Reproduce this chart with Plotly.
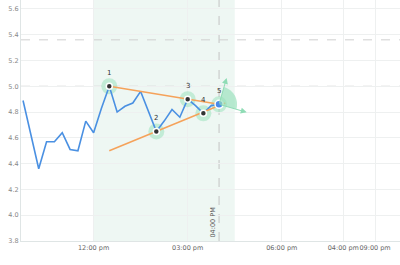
import math
import plotly.graph_objects as go

# ---- data ----
x_idx = [0, 2, 3, 4, 5, 6, 7, 8, 9, 10, 11, 12, 13, 14, 15, 16, 17, 18, 19, 20, 21, 22, 23, 24, 25]
price = [4.89, 4.36, 4.57, 4.57, 4.64, 4.51, 4.50, 4.73, 4.64, 4.83, 5.00, 4.80, 4.845, 4.87, 4.96,
         4.81, 4.65, 4.73, 4.82, 4.76, 4.90, 4.85, 4.79, 4.85, 4.86]

pivot_x = [11, 17, 21, 23, 25]
pivot_y = [5.00, 4.65, 4.90, 4.79, 4.86]
pivot_labels = ["1", "2", "3", "4", "5"]

upper_x = [11, 25]
upper_y = [5.00, 4.86]
lower_x = [11, 25.8]
lower_y = [4.50, 4.87]

h_levels = [5.36, 5.00]
zone = [9, 27]
now_x = 25
now_label = "04:00 PM"

tick_vals = [9, 21, 33, 40.85, 44.9]
tick_text = ["12:00 pm", "03:00 pm", "06:00 pm", "04:00 pm", "09:00 pm"]
y_ticks = [3.8, 4.0, 4.2, 4.4, 4.6, 4.8, 5.0, 5.2, 5.4, 5.6]

X_RANGE = [-0.26, 48.08]
Y_RANGE = [3.8, 5.669]

W, H = 400, 265
ML, MB = 21, 24
px_per_x = (W - ML) / (X_RANGE[1] - X_RANGE[0])
px_per_y = (H - MB) / (Y_RANGE[1] - Y_RANGE[0])

FONT = "DejaVu Sans"
fig = go.Figure()

# halos
fig.add_trace(go.Scatter(x=pivot_x, y=pivot_y, mode="markers",
                         marker=dict(size=16, color="rgba(150,225,185,0.5)"),
                         hoverinfo="skip", showlegend=False))

# wedge at last pivot
cx, cy = pivot_x[-1], pivot_y[-1]
R = 18
a0, a1 = -16, 74
pts = [(cx, cy)]
for i in range(21):
    a = math.radians(a0 + (a1 - a0) * i / 20)
    pts.append((cx + R * math.cos(a) / px_per_x, cy + R * math.sin(a) / px_per_y))
path = "M " + " L ".join(f"{p[0]},{p[1]}" for p in pts) + " Z"

shapes = [
    dict(type="rect", xref="x", yref="paper", x0=zone[0], x1=zone[1], y0=0, y1=1,
         fillcolor="#eef7f3", line_width=0, layer="below"),
    dict(type="line", xref="x", yref="paper", x0=now_x, x1=now_x, y0=0, y1=1,
         line=dict(color="#c4c4c4", width=1, dash="dash"), layer="below"),
    dict(type="path", path=path, fillcolor="rgba(150,224,186,0.65)", line_width=0, layer="above"),
]
for lv in h_levels:
    shapes.append(dict(type="line", xref="paper", yref="y", x0=0, x1=1, y0=lv, y1=lv,
                       line=dict(color="#cfcfcf", width=1, dash="dash"), layer="below"))

# price line
fig.add_trace(go.Scatter(x=x_idx, y=price, mode="lines",
                         line=dict(color="#4a90e2", width=1.6), hoverinfo="skip", showlegend=False))
# trend lines
fig.add_trace(go.Scatter(x=upper_x, y=upper_y, mode="lines",
                         line=dict(color="#f5a25a", width=1.5), showlegend=False))
fig.add_trace(go.Scatter(x=lower_x, y=lower_y, mode="lines",
                         line=dict(color="#f5a25a", width=1.5), showlegend=False))

# pivot dots
fig.add_trace(go.Scatter(x=pivot_x[:-1], y=pivot_y[:-1], mode="markers",
                         marker=dict(size=6, color="#333333", line=dict(color="white", width=1.5)),
                         showlegend=False))
fig.add_trace(go.Scatter(x=[pivot_x[-1]], y=[pivot_y[-1]], mode="markers",
                         marker=dict(size=8, color="#4a8ae8", line=dict(color="white", width=1.5)),
                         showlegend=False))

annotations = []
for px_, py_, lab in zip(pivot_x, pivot_y, pivot_labels):
    annotations.append(dict(x=px_, y=py_, text=lab, showarrow=False, yshift=13,
                            font=dict(family=FONT, size=7, color="#333333")))

# arrows
for ang, ln in [(74, 27.5), (-16, 28.8)]:
    a = math.radians(ang)
    tx = cx + ln * math.cos(a) / px_per_x
    ty = cy + ln * math.sin(a) / px_per_y
    annotations.append(dict(x=tx, y=ty, ax=cx, ay=cy, axref="x", ayref="y", xref="x", yref="y",
                            text="", showarrow=True, arrowhead=2, arrowsize=1.2, arrowwidth=1,
                            arrowcolor="#8fdcb5"))

annotations.append(dict(x=now_x, y=Y_RANGE[0], xref="x", yref="y", text=now_label, textangle=-90,
                        showarrow=False, xanchor="center", yanchor="bottom", xshift=-6.5, yshift=1,
                        font=dict(family=FONT, size=6.5, color="#555555")))

fig.update_layout(
    width=W, height=H,
    margin=dict(l=ML, r=0, t=0, b=MB),
    paper_bgcolor="white", plot_bgcolor="white",
    shapes=shapes, annotations=annotations,
    font=dict(family=FONT, size=6.5, color="#666666"),
    xaxis=dict(range=X_RANGE, tickmode="array", tickvals=tick_vals, ticktext=tick_text,
               tickangle=0, automargin=False,
               showgrid=True, gridcolor="#eef0f0", gridwidth=1, zeroline=False,
               showline=True, linecolor="#dfe5e5", linewidth=1, ticks="",
               tickfont=dict(family=FONT, size=6.5, color="#666666")),
    yaxis=dict(range=Y_RANGE, tickmode="array", tickvals=y_ticks, automargin=False,
               ticktext=[f"{v:.1f}" for v in y_ticks],
               showgrid=True, gridcolor="#eef0f0", gridwidth=1, zeroline=False,
               showline=True, linecolor="#dfe5e5", linewidth=1, ticks="",
               tickfont=dict(family=FONT, size=6.5, color="#888888")),
)

fig.write_html("out.html")
